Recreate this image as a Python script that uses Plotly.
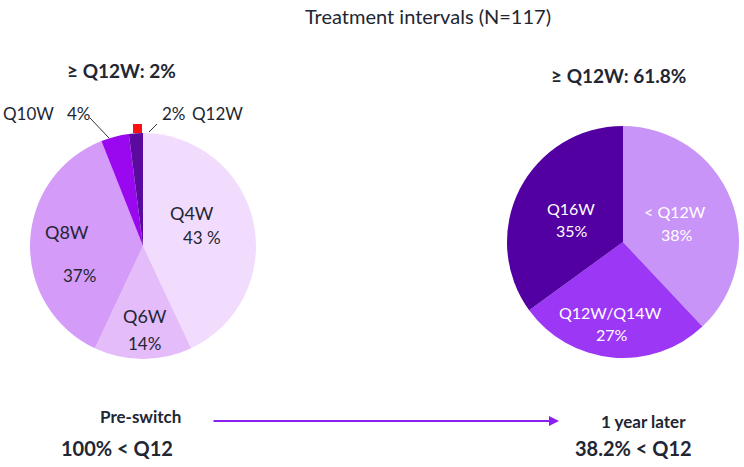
import plotly.graph_objects as go

W, H = 744, 467

# ---- data ----
pre_labels = ["Q4W", "Q6W", "Q8W", "Q10W", "Q12W"]
pre_values = [43, 14, 37, 4, 2]
pre_colors = ["#f1dcfd", "#e4bcfa", "#d59bf8", "#9a08f0", "#5a0a9e"]

post_labels = ["< Q12W", "Q12W/Q14W", "Q16W"]
post_values = [38, 27, 35]
post_colors = ["#c994f7", "#9b37f5", "#5300a2"]

title_text = "Treatment intervals (N=117)"
pre_header = "≥ Q12W: 2%"
post_header = "≥ Q12W: 61.8%"
pre_caption = ["Pre-switch", "100% < Q12"]
post_caption = ["1 year later", "38.2% < Q12"]

FONT = "Lato"
DARK = "#222633"


def px(x, y):
    return x / W, 1 - y / H


def dom(cx, cy, r):
    return dict(x=[(cx - r) / W, (cx + r) / W], y=[1 - (cy + r) / H, 1 - (cy - r) / H])


fig = go.Figure()
fig.add_trace(go.Pie(
    labels=pre_labels, values=pre_values, sort=False, direction="clockwise",
    rotation=0, marker=dict(colors=pre_colors, line=dict(width=0)),
    textinfo="none", hoverinfo="label+percent", showlegend=False,
    domain=dom(143, 246, 113),
))
fig.add_trace(go.Pie(
    labels=post_labels, values=post_values, sort=False, direction="clockwise",
    rotation=0, marker=dict(colors=post_colors, line=dict(width=0)),
    textinfo="none", hoverinfo="label+percent", showlegend=False,
    domain=dom(623, 242, 116),
))

ann = []


def text(x, y, s, size=15, color=DARK, bold=False, xanchor="center"):
    xx, yy = px(x, y)
    if bold:
        s = "<b>" + s + "</b>"
    ann.append(dict(x=xx, y=yy, xref="paper", yref="paper", text=s, showarrow=False,
                    xanchor=xanchor, yanchor="middle",
                    font=dict(family=FONT, size=size, color=color)))


text(428, 16, title_text, size=20)
text(121, 70, pre_header, size=19, bold=True)
text(549, 75, post_header, size=19, bold=True, xanchor="left")

# left pie inside labels (name, value) positions
pre_name_pos = [(192, 213), (145, 316), (67, 232)]
pre_val_pos = [(202, 238), (144, 343), (79, 275)]
for i in range(3):
    text(*pre_name_pos[i], pre_labels[i], size=18)
    pct = f"{pre_values[i]} %" if i == 0 else f"{pre_values[i]}%"
    text(*pre_val_pos[i], pct, size=17)

# small slices: outside labels
text(28, 113, pre_labels[3], size=17)
text(79, 113, f"{pre_values[3]}%", size=17)
text(174, 113, f"{pre_values[4]}%", size=17)
text(217, 113, pre_labels[4], size=17)

# leader lines
shapes = []


def line(x0, y0, x1, y1, color="#333333", width=1):
    a0, b0 = px(x0, y0)
    a1, b1 = px(x1, y1)
    shapes.append(dict(type="line", xref="paper", yref="paper", x0=a0, y0=b0, x1=a1, y1=b1,
                       line=dict(color=color, width=width)))


line(90, 118, 109, 138)
line(157, 124, 149, 132)

# red marker on top of Q12W slice
a0, b0 = px(133, 124)
a1, b1 = px(142, 133)
shapes.append(dict(type="rect", xref="paper", yref="paper", x0=a0, y0=b1, x1=a1, y1=b0,
                   fillcolor="#ff1010", line=dict(width=0)))

# right pie labels (white)
post_name_pos = [(675, 211), (610, 312), (571, 208)]
post_val_pos = [(677, 234), (612, 334), (572, 231)]
for i in range(3):
    text(*post_name_pos[i], post_labels[i], size=16, color="white")
    text(*post_val_pos[i], f"{post_values[i]}%", size=16, color="white")

# bottom captions
text(140, 416, pre_caption[0], size=17, bold=True)
text(117, 448, pre_caption[1], size=20, bold=True)
text(643, 421, post_caption[0], size=17, bold=True)
text(633, 448, post_caption[1], size=20, bold=True)

# arrow
xa, ya = px(559, 421)
ann.append(dict(x=xa, y=ya, xref="paper", yref="paper", ax=-(559 - 212), ay=0,
                axref="pixel", ayref="pixel", showarrow=True, arrowhead=2, arrowsize=1,
                arrowwidth=2, arrowcolor="#8a1ff0", text=""))

fig.update_layout(
    width=W, height=H, margin=dict(l=0, r=0, t=0, b=0),
    paper_bgcolor="white", plot_bgcolor="white",
    annotations=ann, shapes=shapes,
    font=dict(family=FONT, color=DARK),
)

fig.write_html("out.html")
